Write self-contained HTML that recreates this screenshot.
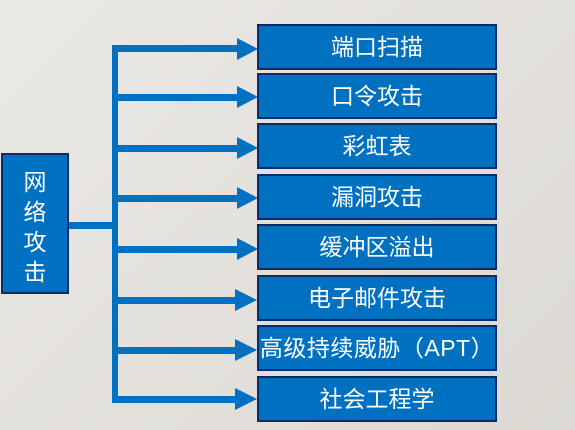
<!DOCTYPE html>
<html><head><meta charset="utf-8"><style>
body{margin:0;width:575px;height:430px;overflow:hidden;background:linear-gradient(135deg,#ebe9e6,#dcd9d3);font-family:"Liberation Sans","Noto Sans CJK SC",sans-serif;position:relative}
.b{position:absolute;left:257px;width:236px;height:42px;background:#0070c0;border:2px solid #0d2b6b;color:#fff;font-size:23px;line-height:42px;text-align:center;white-space:nowrap}
.l{position:absolute;left:1px;top:153px;width:64px;height:137px;background:#0070c0;border:2px solid #0d2b6b;color:#fff;font-size:23px;line-height:30px;text-align:center;padding-top:0}
svg{position:absolute;left:0;top:0}
</style></head><body>
<svg width="575" height="430">
<g fill="#0070c0">
<rect x="67" y="222" width="51" height="7"/>
<rect x="112" y="45" width="6" height="358"/>
<rect x="112" y="45" width="128" height="7"/><polygon points="237,38 258,49 237,60"/>
<rect x="112" y="94" width="128" height="7"/><polygon points="237,86 258,97 237,108"/>
<rect x="112" y="145" width="128" height="7"/><polygon points="237,137 258,148 237,159"/>
<rect x="112" y="195" width="128" height="7"/><polygon points="237,187 258,198 237,209"/>
<rect x="112" y="246" width="128" height="7"/><polygon points="237,238 258,249 237,260"/>
<rect x="112" y="297" width="128" height="7"/><polygon points="235,289 257,300 235,311"/>
<rect x="112" y="347" width="128" height="7"/><polygon points="235,339 257,350 235,361"/>
<rect x="112" y="396" width="128" height="7"/><polygon points="235,388 257,399 235,410"/>
</g></svg>
<div class="l"><div style="margin-top:12px">网<br>络<br>攻<br>击</div></div>
<div class="b" style="top:24px">端口扫描</div>
<div class="b" style="top:73px">口令攻击</div>
<div class="b" style="top:123px">彩虹表</div>
<div class="b" style="top:174px">漏洞攻击</div>
<div class="b" style="top:224px">缓冲区溢出</div>
<div class="b" style="top:275px">电子邮件攻击</div>
<div class="b" style="top:325px;letter-spacing:0.5px">高级持续威胁（APT）</div>
<div class="b" style="top:376px">社会工程学</div>
</body></html>
